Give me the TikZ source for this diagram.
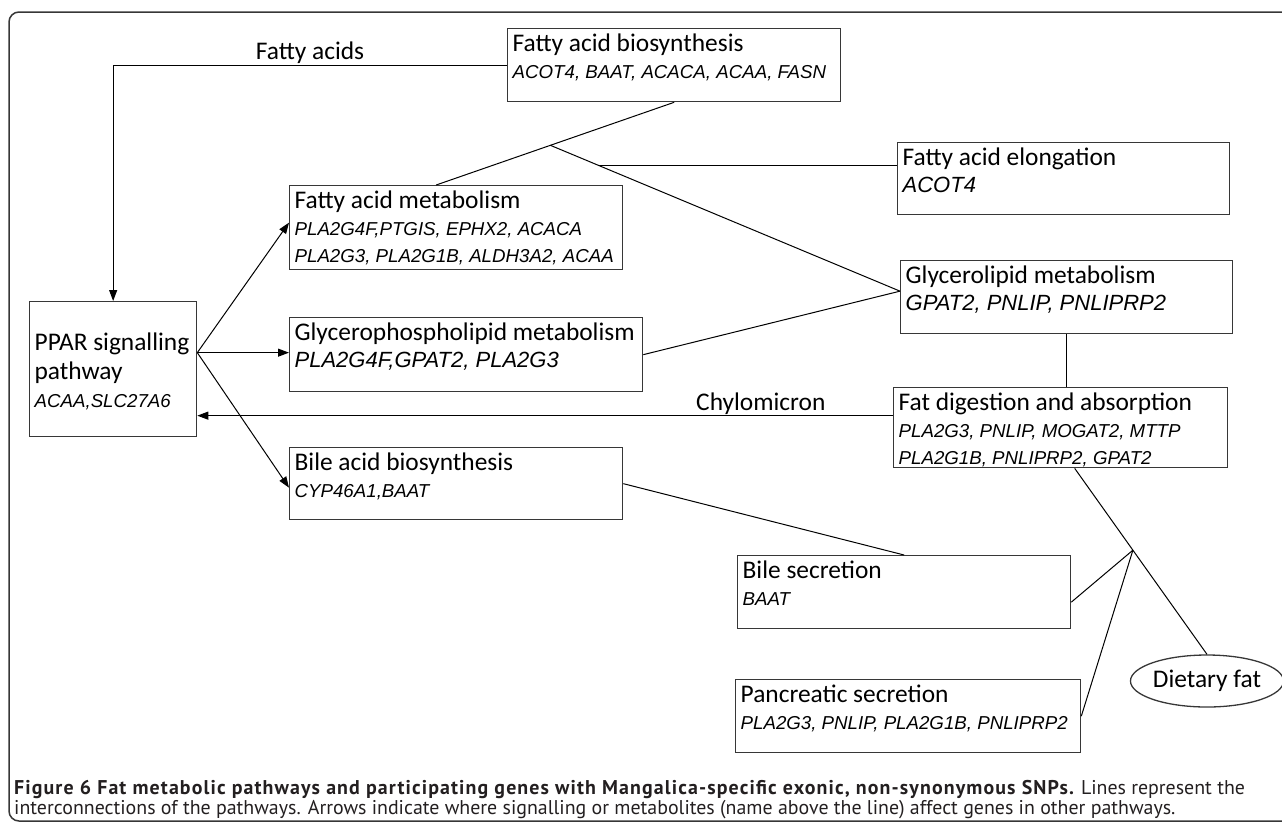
\documentclass[tikz,border=0pt]{standalone}
\usepackage{fontspec}
\setmainfont{Carlito}
\newfontfamily\genefont{Liberation Sans}
\newfontfamily\capfont{PT Sans}
\usetikzlibrary{arrows.meta,calc,shapes.geometric}
\definecolor{boxgray}{RGB}{55,55,55}
\definecolor{capgray}{RGB}{35,31,32}

\newcommand{\ttl}{\fontsize{25.4pt}{27pt}\selectfont}
\newcommand{\gn}{\genefont\itshape\fontsize{18.7pt}{27pt}\selectfont}
\newcommand{\gnl}{\genefont\itshape\fontsize{22pt}{27pt}\selectfont}
\newcommand{\boxtext}[4][17]{\parbox[t][\dimexpr#3pt-10pt\relax][t]{#2pt}{\raggedright\leftskip=5pt\rule{0pt}{#1pt}#4}}

\tikzset{
  pathway/.style={draw=boxgray, line width=1.3pt, anchor=north west, inner xsep=0pt, inner ysep=5pt},
  link/.style={line width=1pt},
  arr/.style={line width=1pt, -{Triangle[length=11pt,width=8pt]}},
  metab/.style={font=\ttl, inner sep=1pt},
  caption/.style={anchor=base west, inner sep=0pt, text=capgray, font=\capfont\fontsize{19.9pt}{23pt}\selectfont}
}

\begin{document}
\begin{tikzpicture}[x=1pt,y=-1pt]
\useasboundingbox (0,0) rectangle (1282,823);
\clip (0,0) rectangle (1282,823);
\draw[boxgray, line width=1.5pt, rounded corners=10pt] (9,12) rectangle (1300,821);

% pathways
\node[pathway] (fab) at (507,28) {\boxtext{333}{73}{\ttl Fatty acid biosynthesis\\ \gn ACOT4, BAAT, ACACA, ACAA, FASN}};
\node[pathway] (fam) at (289,185) {\boxtext{333}{84}{\ttl Fatty acid metabolism\\ \gn PLA2G4F,PTGIS, EPHX2, ACACA\\ PLA2G3, PLA2G1B, ALDH3A2, ACAA}};
\node[pathway] (elo) at (897,142) {\boxtext{332}{72}{\ttl Fatty acid elongation\\ \gnl ACOT4}};
\node[pathway] (gl) at (900,260) {\boxtext{332}{73}{\ttl Glycerolipid metabolism\\ \gnl GPAT2, PNLIP, PNLIPRP2}};
\node[pathway] (gpl) at (289,317) {\boxtext{353}{74}{\ttl Glycerophospholipid metabolism\\ \gnl PLA2G4F,GPAT2, PLA2G3}};
\node[pathway] (ppar) at (29,301) {\boxtext[44]{167}{135}{\ttl PPAR signalling\\[2pt] pathway\\[1pt] \gn ACAA,SLC27A6}};
\node[pathway] (baa) at (289,447) {\boxtext{333}{72}{\ttl Bile acid biosynthesis\\ \gn CYP46A1,BAAT}};
\node[pathway] (fdg) at (893,387) {\boxtext{334}{80}{\ttl Fat digestion and absorption\\ \gn PLA2G3, PNLIP, MOGAT2, MTTP\\ PLA2G1B, PNLIPRP2, GPAT2}};
\node[pathway] (bs) at (737,555) {\boxtext{333}{73}{\ttl Bile secretion\\ \gn BAAT}};
\node[pathway] (ps) at (735,679) {\boxtext{345}{73}{\ttl Pancreatic secretion\\ \gn PLA2G3, PNLIP, PLA2G1B, PNLIPRP2}};
\node[ellipse, draw=boxgray, line width=1.3pt, minimum width=136pt, minimum height=52pt, inner sep=0pt, font=\ttl] (df) at (1207,681) {Dietary fat};

% signalling and metabolites
\coordinate (hub) at ([yshift=16.5pt]ppar.east);
\coordinate (chyl) at ([yshift=12pt]fdg.west);
\draw[arr] (fab.west) -| node[metab, pos=0.25, above] (fa) {Fatty acids} (ppar.north);
\draw[arr] (hub) -- ([yshift=5pt]fam.west);
\draw[arr] (hub) -- (hub -| gpl.west);
\draw[arr] (hub) -- ([yshift=-4pt]baa.west);
\draw[arr] (chyl) -- node[metab, pos=0.19, above] (chy) {Chylomicron} (chyl -| ppar.east);

% interconnections
\coordinate (famtop) at ([xshift=-20pt]fam.north);
\coordinate (glw) at ([yshift=6pt]gl.west);
\draw[link] (famtop) -- coordinate[pos=0.48] (j1) (fab.south);
\draw[link] (j1) -- coordinate[pos=0.14] (j2) (glw);
\draw[link] (j2) -- (j2 -| elo.west);
\draw[link] (gpl.east) -- (glw);
\draw[link] (gl.south) -- (gl.south |- fdg.north);
\draw[link] (baa.east) -- (bs.north);
\draw[link] ([xshift=14pt]fdg.south) -- coordinate[pos=0.44] (j3) (df.north);
\draw[link] (j3) -- ([yshift=-10pt]bs.east);
\draw[link] (j3) -- (ps.east);

% caption
\node[caption] (cap1) at (14,794) {{\bfseries\addfontfeatures{LetterSpace=5.6}Figure 6 Fat metabolic pathways and participating genes with Mangalica-specific exonic, non-synonymous SNPs.} Lines represent the};
\node[caption] (cap2) at (14,814) {interconnections of the pathways. Arrows indicate where signalling or metabolites (name above the line) affect genes in other pathways.};
\end{tikzpicture}
\end{document}
